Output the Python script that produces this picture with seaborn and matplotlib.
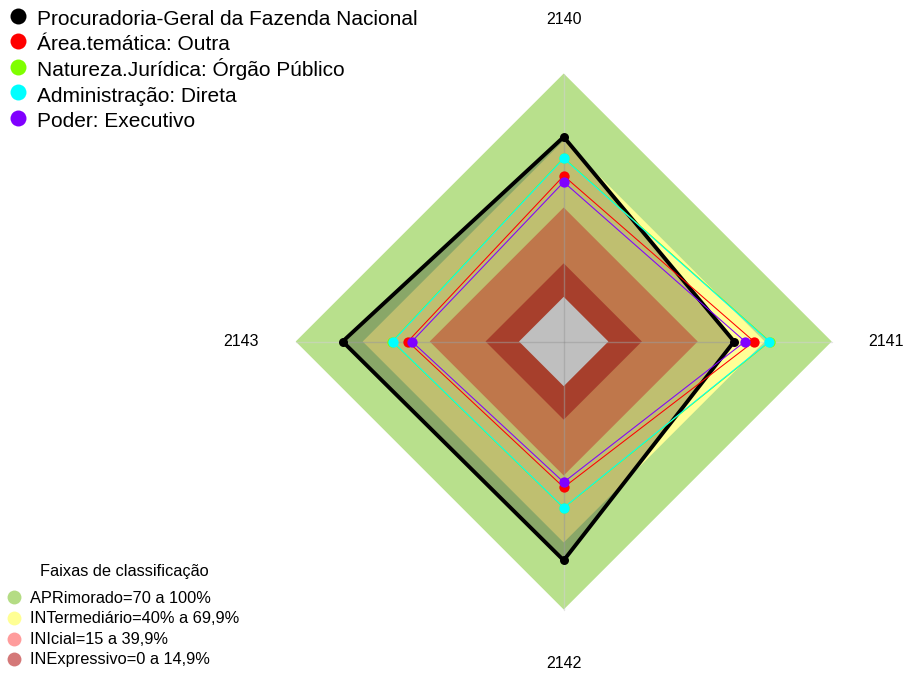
import numpy as np
import pandas as pd
import matplotlib.pyplot as plt
import seaborn as sns
from matplotlib.lines import Line2D

# eixos do radar (sentido horario a partir do topo)
eixos = ['2140', '2141', '2142', '2143']

# series (% por eixo)
series_nomes = ['Procuradoria-Geral da Fazenda Nacional',
                'Área.temática: Outra',
                'Natureza.Jurídica: Órgão Público',
                'Administração: Direta',
                'Poder: Executivo']
pgfn = [71.6, 56.3, 78.0, 79.0]
area_tematica = [54.2, 65.2, 45.3, 49.8]
natureza = [62.2, 72.3, 54.5, 56.8]
administracao = [62.0, 72.0, 54.4, 56.6]
poder = [51.4, 61.2, 43.0, 48.0]
series_cores = ['black', '#FF0000', '#7FFF00', '#00FFFF', '#8000FF']

# faixas de classificacao
faixas_limites = [100, 70, 40, 15, 0]
faixas_cores = ['#B8E08C', '#FFFF96', '#FFA065', '#E0553B', 'white']
faixas_nomes = ['APRimorado=70 a 100%', 'INTermediário=40% a 69,9%',
                'INIcial=15 a 39,9%', 'INExpressivo=0 a 14,9%']
faixas_leg_cores = ['#B4DC84', '#FFFF94', '#FF9C9C', '#D47878']

sns.set_theme(style='white')
plt.rcParams['font.family'] = ['Liberation Sans', 'DejaVu Sans']

W, H = 905, 675
angulos = np.pi / 2 - np.arange(len(eixos)) * np.pi / 2


def to_xy(vals):
    # centro fica em 1/6 do raio, como no fmsb
    r = (1 + 5 * np.asarray(vals, dtype=float) / 100) / 6
    return r * np.cos(angulos), r * np.sin(angulos)


fig = plt.figure(figsize=(W / 100, H / 100), dpi=100)
ax = fig.add_axes([0, 0, 1, 1])

# faixas
for lim, cor in zip(faixas_limites, faixas_cores):
    x, y = to_xy([lim] * len(eixos))
    ax.fill(x, y, color=cor, lw=0, zorder=1)

# linhas dos eixos
for a in angulos:
    ax.plot([0, np.cos(a)], [0, np.sin(a)], color='#D0D0D0', lw=1, alpha=0.55, zorder=2)

# preenchimento da serie principal
x, y = to_xy(pgfn)
ax.fill(x, y, color='black', alpha=0.25, lw=0, zorder=3)

dados = [pgfn, area_tematica, natureza, administracao, poder]
for i, (nome, vals, cor) in enumerate(zip(series_nomes, dados, series_cores)):
    x, y = to_xy(vals)
    df = pd.DataFrame({'x': np.append(x, x[0]), 'y': np.append(y, y[0])})
    lw = 2.8 if i == 0 else 0.75
    sns.lineplot(data=df, x='x', y='y', sort=False, estimator=None, color=cor,
                 lw=lw, ax=ax, zorder=4 + i)
    s = 42 if i == 0 else 55
    sns.scatterplot(data=df.iloc[:-1], x='x', y='y', color=cor, s=s,
                    linewidth=0, ax=ax, zorder=4 + i)

ax.set_xlim(-2.1034, 1.2735)
ax.set_ylim(-1.2444, 1.2743)
ax.axis('off')

# rotulos dos eixos
for a, lab in zip(angulos, eixos):
    ax.text(1.203 * np.cos(a), 1.203 * np.sin(a), lab, ha='center', va='center',
            fontsize=11.5, color='black')

# legenda das series (posicoes em pixels, linhas igualmente espacadas)
for i, (nome, cor) in enumerate(zip(series_nomes, series_cores)):
    ym = 15.7 + 25.5 * i
    fig.add_artist(Line2D([18 / W], [1 - ym / H], ls='none', marker='o', markersize=11.5,
                          color=cor, markeredgewidth=0, transform=fig.transFigure))
    fig.text(37 / W, 1 - (ym + 9.3) / H, nome, fontsize=15, va='baseline', ha='left',
             color='black')

# legenda das faixas
fig.text(124.5 / W, 1 - 576 / H, 'Faixas de classificação', fontsize=11.8,
         va='baseline', ha='center', color='black')
for i, (nome, cor) in enumerate(zip(faixas_nomes, faixas_leg_cores)):
    ym = 597.3 + 20.6 * i
    fig.add_artist(Line2D([14 / W], [1 - ym / H], ls='none', marker='o', markersize=10,
                          color=cor, markeredgewidth=0, transform=fig.transFigure))
    fig.text(30 / W, 1 - (ym + 5.3) / H, nome, fontsize=11.8, va='baseline', ha='left',
             color='black')

fig.savefig('out.png', dpi=100)
